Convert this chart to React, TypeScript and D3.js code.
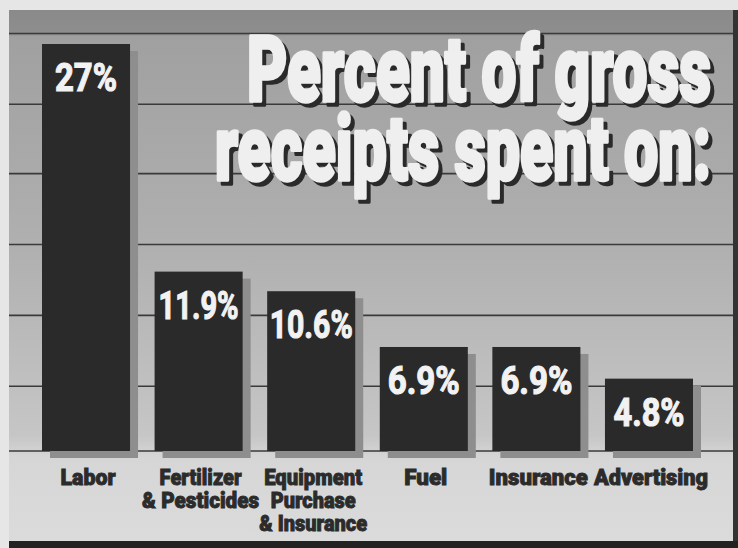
import React from "react";
import * as d3 from "d3";

const categories = ["Labor", "Fertilizer", "Equipment", "Fuel", "Insurance", "Advertising"];
const categoryLines = [
  ["Labor"],
  ["Fertilizer", "& Pesticides"],
  ["Equipment", "Purchase", "& Insurance"],
  ["Fuel"],
  ["Insurance"],
  ["Advertising"],
];
const values = [27, 11.9, 10.6, 6.9, 6.9, 4.8];
const valueLabels = ["27%", "11.9%", "10.6%", "6.9%", "6.9%", "4.8%"];
const gridValues = [0, 4.3, 9.0, 13.7, 18.4, 23.0, 27.7];
const titleLines = ["Percent of gross", "receipts spent on:"];

const textWidths: Record<string, number> = {
  "27%": 62, "11.9%": 80, "10.6%": 83, "6.9%": 72, "4.8%": 71,
  "Labor": 55, "Fertilizer": 82, "& Pesticides": 117, "Equipment": 98,
  "Purchase": 85, "& Insurance": 108, "Fuel": 43, "Insurance": 99, "Advertising": 114,
  "Percent of gross": 464, "receipts spent on:": 496,
};

const W = 738;
const H = 548;
const FONT = "Roboto, 'Liberation Sans', Arial, sans-serif";

export default function App() {
  const x = d3.scaleBand<string>().domain(categories).range([42, 693]).paddingInner(0.218).paddingOuter(0);
  const y = d3.scaleLinear().domain([0, 27]).range([451, 44]);
  const bw = x.bandwidth();
  const titleBase = [101, 180];

  return (
    <div style={{ position: "absolute", left: 0, top: 0 }}>
      <svg width={W} height={H} viewBox={`0 0 ${W} ${H}`} style={{ display: "block" }}>
        <defs>
          <linearGradient id="bg" x1="0" y1="0" x2="0" y2="1">
            <stop offset="0" stopColor="#8a8a8a" />
            <stop offset="0.045" stopColor="#8e8e8e" />
            <stop offset="0.05" stopColor="#a0a0a0" />
            <stop offset="0.45" stopColor="#b0b0b0" />
            <stop offset="0.8" stopColor="#c6c6c6" />
            <stop offset="0.84" stopColor="#d6d6d6" />
            <stop offset="1" stopColor="#dbdbdb" />
          </linearGradient>
        </defs>
        <rect x={0} y={0} width={W} height={H} fill="#e6e6e6" />
        <rect x={9} y={10} width={724} height={532} fill="url(#bg)" />

        {gridValues.map((g, i) => (
          <line key={i} x1={9} x2={733} y1={y(g)} y2={y(g)} stroke="#3a3a3a" strokeWidth={1.6} />
        ))}

        {/* title */}
        {titleLines.map((t, i) => (
          <g key={t}>
            <text x={715} y={titleBase[i] + 4} textAnchor="end" fontFamily={FONT} fontWeight={900}
              fontSize={90} fill="#2a2a2a" stroke="#2a2a2a" strokeWidth={3.5} strokeLinejoin="round"
              textLength={textWidths[t]} lengthAdjust="spacingAndGlyphs">{t}</text>
            <text x={711} y={titleBase[i]} textAnchor="end" fontFamily={FONT} fontWeight={900}
              fontSize={90} fill="#efefef" stroke="#efefef" strokeWidth={3.5} strokeLinejoin="round"
              textLength={textWidths[t]} lengthAdjust="spacingAndGlyphs">{t}</text>
          </g>
        ))}

        {/* shadows */}
        {categories.map((c, i) => (
          <rect key={"s" + c} x={(x(c) as number) + 8} y={y(values[i]) + 7} width={bw} height={y(0) - y(values[i])} fill="#8e8e8e" />
        ))}
        {/* bars */}
        {categories.map((c, i) => (
          <rect key={"b" + c} x={x(c) as number} y={y(values[i])} width={bw} height={y(0) - y(values[i])} fill="#2a2a2a" />
        ))}
        {/* value labels */}
        {categories.map((c, i) => (
          <text key={"v" + c} x={(x(c) as number) + bw / 2} y={y(values[i]) + 47} textAnchor="middle"
            fontFamily={FONT} fontWeight={700} fontSize={39} fill="#f2f2f2" stroke="#f2f2f2" strokeWidth={1.2}
            textLength={textWidths[valueLabels[i]]} lengthAdjust="spacingAndGlyphs">{valueLabels[i]}</text>
        ))}
        {/* category labels */}
        {categories.map((c, i) => (
          <g key={"c" + c}>
            {categoryLines[i].map((ln, j) => (
              <text key={ln} x={(x(c) as number) + bw / 2 + 2} y={485 + j * 23} textAnchor="middle"
                fontFamily={FONT} fontWeight={900} fontSize={22} fill="#2b2b2b" stroke="#2b2b2b" strokeWidth={0.9}
                textLength={textWidths[ln]} lengthAdjust="spacingAndGlyphs">{ln}</text>
            ))}
          </g>
        ))}

        {/* frame */}
        <rect x={733} y={10} width={5} height={H - 10} fill="#333" />
        <rect x={9} y={541} width={W - 9} height={7} fill="#222" />
      </svg>
    </div>
  );
}
